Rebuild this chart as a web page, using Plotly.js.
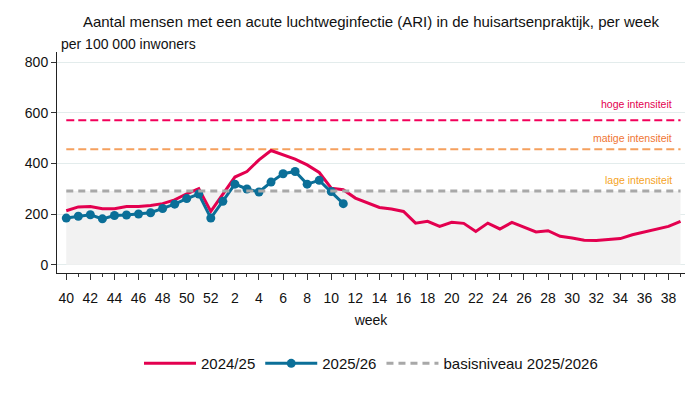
<!DOCTYPE html>
<html>
<head>
<meta charset="utf-8">
<script src="https://cdn.plot.ly/plotly-3.0.1.min.js"></script>
<style>html,body{margin:0;padding:0;background:#fff;}#chart{width:700px;height:395px;}</style>
</head>
<body>
<div id="chart"></div>
<script>
// Week labels of the season (week 40 .. week 39)
const weeks = [40,41,42,43,44,45,46,47,48,49,50,51,52,1,2,3,4,5,6,7,8,9,10,11,12,13,14,15,16,17,18,19,20,21,22,23,24,25,26,27,28,29,30,31,32,33,34,35,36,37,38,39];
// ARI per 100 000 inhabitants
const season2425 = [213,228,230,221,221,230,230,234,241,256,280,300,210,280,346,368,414,451,434,417,394,364,302,296,263,243,226,220,210,164,171,151,167,163,131,164,141,167,149,129,134,112,105,96,95,99,103,118,129,138,151,171];
const season2526 = [184,191,197,181,194,196,200,205,222,239,261,279,184,250,318,299,287,326,359,368,318,333,289,241];
const basisniveau = 291;
const matigeDrempel = 456;
const hogeDrempel = 570;
const yTicks = [0,200,400,600,800];

const idx = weeks.map((w,i)=>i);
const idx26 = season2526.map((v,i)=>i);
const tickIdx = idx.filter(i=>i%2===0);
const tickTxt = tickIdx.map(i=>String(weeks[i]));
const flat = v => idx.map(()=>v);

const red = '#e3004f', blue = '#0b6f98', grey = '#a8a8a8';

const traces = [
  {x: idx, y: flat(basisniveau), type:'scatter', mode:'lines', fill:'tozeroy', fillcolor:'#f2f2f2', line:{width:0, color:'#f2f2f2'}, showlegend:false, hoverinfo:'skip'},
  {x: idx, y: flat(hogeDrempel), type:'scatter', mode:'lines', line:{color:'#f2005a', width:2, dash:'8px,4px'}, showlegend:false},
  {x: idx, y: flat(matigeDrempel), type:'scatter', mode:'lines', line:{color:'#f5a05e', width:2, dash:'8px,4px'}, showlegend:false},
  {x: idx, y: season2425, type:'scatter', mode:'lines', name:'2024/25', line:{color:red, width:3}},
  {x: idx26, y: season2526, type:'scatter', mode:'lines+markers', name:'2025/26', line:{color:blue, width:3}, marker:{color:blue, size:9}},
  {x: idx, y: flat(basisniveau), type:'scatter', mode:'lines', name:'basisniveau 2025/2026', line:{color:grey, width:3, dash:'7px,5px'}}
];

const font = 'Liberation Sans, Arial, sans-serif';
const layout = {
  width:700, height:395,
  margin:{l:57, r:15, t:52, b:122},
  paper_bgcolor:'#fff', plot_bgcolor:'#fff',
  font:{family:font, size:14, color:'#111'},
  title:{text:'Aantal mensen met een acute luchtweginfectie (ARI) in de huisartsenpraktijk, per week', x:0.5, xref:'paper', xanchor:'center', y:1-22/395, yref:'container', yanchor:'middle', font:{family:font, size:15, color:'#111'}},
  xaxis:{range:[-0.77, 51.37], tickmode:'array', tickvals:tickIdx, ticktext:tickTxt, ticks:'outside', ticklen:6, tickcolor:'#333', ticklabelstandoff:6, showline:true, linecolor:'#222', linewidth:1, showgrid:false, zeroline:false,
         minor:{tickmode:'linear', tick0:0, dtick:1, ticks:'outside', ticklen:3, tickcolor:'#333', showgrid:false},
         title:{text:'week', standoff:10, font:{family:font, size:14, color:'#111'}}, tickfont:{size:14}},
  yaxis:{range:[-33, 840], tickmode:'array', tickvals:yTicks, ticks:'outside', ticklen:5, tickcolor:'#333', showline:true, linecolor:'#222', linewidth:1, gridcolor:'#e3ecec', gridwidth:1, zeroline:false, tickfont:{size:14}},
  legend:{orientation:'h', x:0.5, xanchor:'center', y:-0.41, yanchor:'middle', font:{size:15}, itemwidth:52, itemgap:28, traceorder:'normal'},
  annotations:[
    {text:'per 100 000 inwoners', xref:'paper', yref:'paper', x:0, y:1+8/221, xanchor:'left', yanchor:'middle', xshift:2, showarrow:false, font:{family:font, size:14, color:'#111'}},
    {text:'hoge intensiteit', xref:'x', yref:'y', x:idx[idx.length-1], y:hogeDrempel, xanchor:'right', yanchor:'middle', yshift:16, xshift:-7, showarrow:false, font:{family:font, size:10.5, color:'#e3004f'}},
    {text:'matige intensiteit', xref:'x', yref:'y', x:idx[idx.length-1], y:matigeDrempel, xanchor:'right', yanchor:'middle', yshift:11, xshift:-7, showarrow:false, font:{family:font, size:10.5, color:'#f07533'}},
    {text:'lage intensiteit', xref:'x', yref:'y', x:idx[idx.length-1], y:basisniveau, xanchor:'right', yanchor:'middle', yshift:11, xshift:-7, showarrow:false, font:{family:font, size:10.5, color:'#f5a31f'}}
  ]
};
Plotly.newPlot('chart', traces, layout, {staticPlot:true, displayModeBar:false});
</script>
</body>
</html>
